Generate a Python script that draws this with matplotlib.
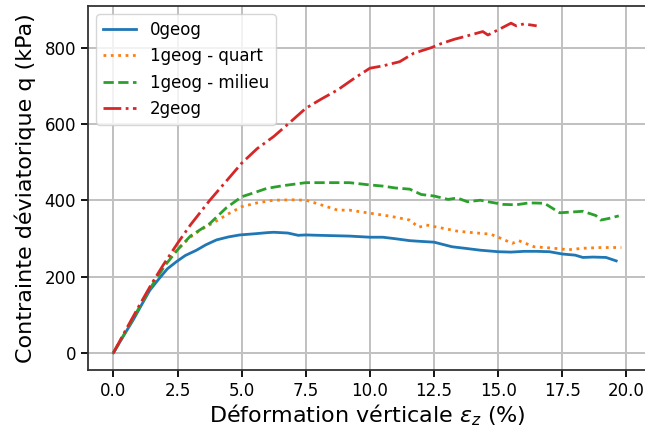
import matplotlib
matplotlib.use('Agg')
import matplotlib.pyplot as plt

# 0geog
x_0geog = [0, 0.4, 0.77, 1.1, 1.42, 1.8, 2.1, 2.46, 2.8, 3.24, 3.6, 4.02, 4.5, 4.93, 5.5, 6.0,
           6.25, 6.8, 7.2, 7.5, 8.0, 8.6, 9.2, 10.0, 10.5, 11.0, 11.55, 12.0, 12.5, 13.2, 13.7,
           14.3, 15.0, 15.5, 16.0, 16.5, 17.0, 17.5, 18.0, 18.3, 18.7, 19.2, 19.6]
y_0geog = [0, 45, 86, 126, 164, 196, 220, 239, 255, 269, 283, 296, 304, 309, 312, 315,
           316, 314, 308, 309, 308, 307, 306, 303, 303, 299, 294, 292, 290, 278, 274,
           269, 265, 264, 266, 266, 265, 259, 256, 250, 251, 250, 241]

# 1geog - quart
x_quart = [0, 0.5, 1.0, 1.5, 2.0, 2.5, 3.0, 3.37, 4.0, 4.5, 5.0, 5.6, 6.25, 7.0, 7.5, 8.0,
           8.74, 9.2, 10.0, 10.8, 11.55, 11.9, 12.2, 13.4, 14.0, 14.7, 15.0, 15.55, 15.8,
           16.4, 17.0, 17.5, 17.7, 18.3, 19.0, 19.8]
y_quart = [0, 60, 120, 180, 232, 272, 303, 321, 345, 365, 383, 393, 400, 401, 400, 390,
           374, 374, 366, 358, 348, 329, 335, 319, 315, 311, 303, 287, 294, 278, 275, 272,
           270, 274, 276, 276]

# 1geog - milieu
x_milieu = [0, 0.5, 1.0, 1.5, 2.0, 2.5, 3.0, 3.76, 4.4, 5.0, 5.5, 5.98, 6.6, 7.5, 8.2, 8.74,
            9.2, 10.0, 10.5, 11.0, 11.55, 12.0, 12.5, 13.05, 13.4, 13.8, 14.3, 14.6, 15.2,
            15.7, 16.2, 16.8, 17.4, 18.3, 18.8, 19.0, 19.3, 19.7]
y_milieu = [0, 58, 118, 176, 228, 270, 306, 339, 380, 409, 420, 431, 438, 446, 446, 446,
            446, 440, 437, 432, 429, 415, 411, 402, 406, 396, 400, 396, 389, 388, 393, 392,
            367, 371, 360, 348, 352, 359]

# 2geog
x_2geog = [0, 0.5, 1.0, 1.5, 1.94, 2.5, 3.0, 3.76, 4.4, 5.0, 5.6, 6.25, 6.9, 7.5, 8.1, 8.74,
           9.4, 10.0, 10.5, 11.16, 11.7, 12.4, 12.8, 13.3, 13.7, 14.4, 14.6, 15.04, 15.5,
           15.7, 16.0, 16.5]
y_2geog = [0, 62, 123, 182, 230, 287, 335, 400, 450, 497, 535, 567, 605, 641, 665, 689,
           720, 746, 752, 763, 785, 800, 811, 822, 829, 842, 833, 848, 864, 857, 862, 857]

x_ticks = [0.0, 2.5, 5.0, 7.5, 10.0, 12.5, 15.0, 17.5, 20.0]
y_ticks = [0, 200, 400, 600, 800]


def plot_map():
    fig = plt.figure(figsize=(6.45, 4.29), dpi=100)
    ax = fig.add_axes([88 / 645, 59 / 429, (647 - 88) / 645, (423 - 59) / 429])
    ax.plot(x_0geog, y_0geog, color='tab:blue', lw=2, ls='-', label='0geog')
    ax.plot(x_quart, y_quart, color='tab:orange', lw=2, ls=':', label='1geog - quart')
    ax.plot(x_milieu, y_milieu, color='tab:green', lw=2, ls='--', label='1geog - milieu')
    ax.plot(x_2geog, y_2geog, color='tab:red', lw=2, ls='-.', label='2geog')
    ax.set_xlim(-0.99, 20.8)
    ax.set_ylim(-45, 909)
    ax.set_xticks(x_ticks)
    ax.set_yticks(y_ticks)
    ax.tick_params(labelsize=12, width=1.3, length=5)
    ax.grid(True, color='#c0c0c0', lw=1.4)
    ax.set_axisbelow(True)
    for s in ax.spines.values():
        s.set_linewidth(1.3)
        s.set_color('#333333')
    ax.set_xlabel(r'Déformation vérticale $\varepsilon_z$ (%)', fontsize=16, labelpad=2)
    ax.set_ylabel('Contrainte déviatorique q (kPa)', fontsize=16, labelpad=6)
    ax.legend(loc='upper left', fontsize=12)
    fig.savefig('out.png', dpi=100)


if __name__ == '__main__':
    plot_map()
